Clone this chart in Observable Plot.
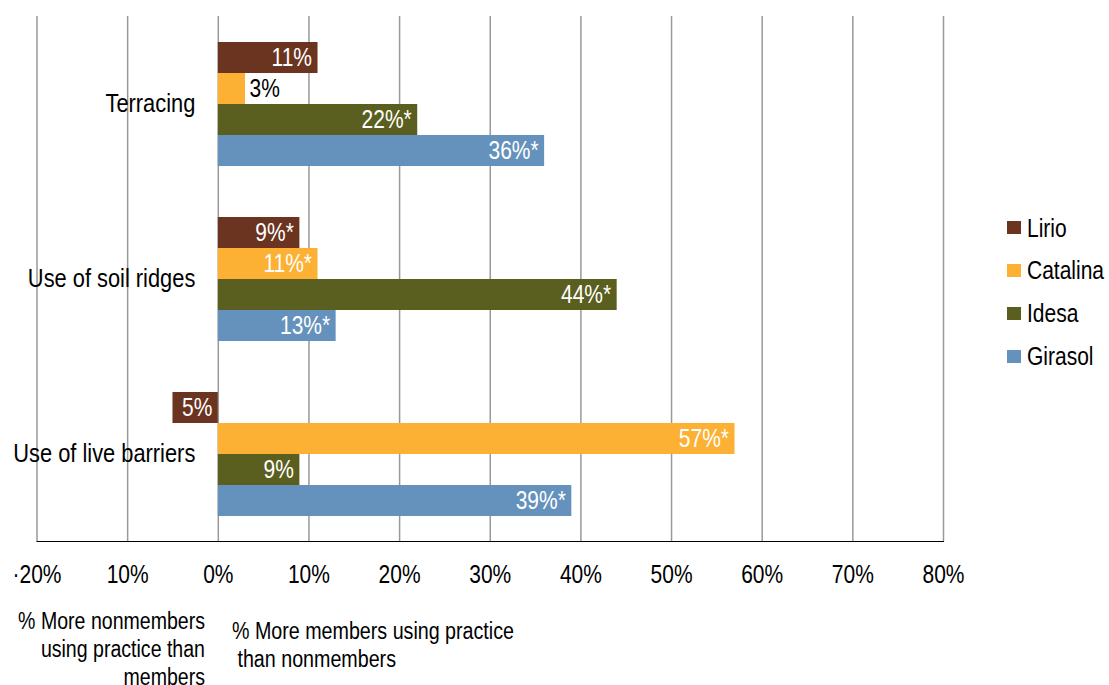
<!DOCTYPE html>
<html>
<head>
<meta charset="utf-8">
<script src="https://cdn.jsdelivr.net/npm/d3@7"></script>
<script src="https://cdn.jsdelivr.net/npm/@observablehq/plot@0.6"></script>
<style>
  html, body { margin: 0; padding: 0; background: #fff; }
  #wrap { position: relative; width: 1109px; height: 685px; overflow: hidden;
    font-family: 'Liberation Sans', Arial, sans-serif; color: #000; }
  #chart svg { display: block; }
  .legend { position: absolute; left: 1007px; top: 206.6px; }
  .legend .item { height: 42.7px; line-height: 42.7px; font-size: 25px; display: flex; align-items: center; white-space: nowrap; }
  .legend .sw { width: 14px; height: 13px; margin-right: 6px; flex: none; }
  .legend .lab { display: inline-block; transform: scaleX(0.84); transform-origin: left center; }
  .desc { position: absolute; font-size: 23px; line-height: 28px; white-space: nowrap; }
  #descLeft div { transform: scaleX(0.85); transform-origin: right center; }
  #descRight div { transform: scaleX(0.855); transform-origin: left center; }
</style>
</head>
<body>
<div id="wrap">
  <div id="chart"></div>
  <div class="legend" id="legend"></div>
  <div class="desc" id="descLeft" style="left:-100px; width:305px; top:607px; text-align:right;"></div>
  <div class="desc" id="descRight" style="left:232px; width:400px; top:617px; text-align:left;"></div>
</div>
<script>
// ---- data ----
const practices = ["Terracing", "Use of soil ridges", "Use of live barriers"];
const series = ["Lirio", "Catalina", "Idesa", "Girasol"];
const seriesColors = ["#6A3420", "#FCB034", "#5A5E1E", "#6592BD"];
const terracing = [11, 3, 22, 36];
const soilRidges = [9, 11, 44, 13];
const liveBarriers = [-5, 57, 9, 39];
const terracingLabels = ["11%", "3%", "22%*", "36%*"];
const soilRidgesLabels = ["9%*", "11%*", "44%*", "13%*"];
const liveBarriersLabels = ["5%", "57%*", "9%", "39%*"];
const xTicks = [-20, -10, 0, 10, 20, 30, 40, 50, 60, 70, 80];
const xTickLabels = ["·20%", "10%", "0%", "10%", "20%", "30%", "40%", "50%", "60%", "70%", "80%"];
const descLeftLines = ["% More nonmembers", "using practice than", "members"];
const descRightLines = ["% More members using practice", "\u00a0than nonmembers"];

// ---- table ----
const valuesByPractice = [terracing, soilRidges, liveBarriers];
const labelsByPractice = [terracingLabels, soilRidgesLabels, liveBarriersLabels];
const data = [];
practices.forEach((p, i) => series.forEach((s, j) => data.push({
  practice: p, series: s, value: valuesByPractice[i][j], label: labelsByPractice[i][j]
})));

const FONT = "'Liberation Sans', Arial, sans-serif";
const SQUEEZE = 0.84;
const inside = data.filter(d => d.value >= 5);
const negative = data.filter(d => d.value < 0);
const outside = data.filter(d => d.value >= 0 && d.value < 5);

const chart = Plot.plot({
  width: 1109,
  height: 600,
  marginLeft: 36.5,
  marginRight: 166,
  marginTop: 15,
  marginBottom: 59,
  style: { fontFamily: FONT, fontSize: "25px", color: "#000", background: "transparent", overflow: "visible" },
  x: { domain: [-20, 80], ticks: xTicks, tickFormat: d => xTickLabels[xTicks.indexOf(d)], tickSize: 0, tickPadding: 24, label: null, line: true },
  y: { domain: series, paddingInner: 0, paddingOuter: 0.76, axis: null },
  fy: { domain: practices, padding: 0, axis: null, label: null },
  color: { domain: series, range: seriesColors },
  marks: [
    Plot.ruleX(xTicks, { stroke: "#999", strokeWidth: 1.5 }),
    Plot.barX(data, { x: "value", y: "series", fy: "practice", fill: "series" }),
    Plot.text(inside, { x: "value", y: "series", fy: "practice", text: "label", textAnchor: "end", dx: -6, fill: "white", fontSize: 25 }),
    Plot.text(negative, { x: () => 0, y: "series", fy: "practice", text: "label", textAnchor: "end", dx: -6, fill: "white", fontSize: 25 }),
    Plot.text(outside, { x: "value", y: "series", fy: "practice", text: "label", textAnchor: "start", dx: 4, fill: "black", fontSize: 25 }),
    Plot.text(practices, { x: () => 0, fy: d => d, text: d => d, textAnchor: "end", dx: -23, fill: "black", fontSize: 26 })
  ]
});
// condense the text horizontally to imitate a narrow typeface
chart.querySelectorAll("text").forEach(t => {
  const tr = t.getAttribute("transform") || "";
  const x = t.getAttribute("x");
  if (x != null && /^-?[\d.]+$/.test(x.trim())) t.setAttribute("x", +x / SQUEEZE);
  t.setAttribute("transform", `${tr} scale(${SQUEEZE},1)`);
});
document.getElementById("chart").appendChild(chart);

// legend
const legend = document.getElementById("legend");
series.forEach((s, i) => {
  const item = document.createElement("div");
  item.className = "item";
  const sw = document.createElement("span");
  sw.className = "sw";
  sw.style.background = seriesColors[i];
  const t = document.createElement("span");
  t.className = "lab";
  t.textContent = s;
  item.appendChild(sw); item.appendChild(t);
  legend.appendChild(item);
});

// descriptions
descLeftLines.forEach(l => { const d = document.createElement("div"); d.textContent = l; document.getElementById("descLeft").appendChild(d); });
descRightLines.forEach(l => { const d = document.createElement("div"); d.textContent = l; document.getElementById("descRight").appendChild(d); });
</script>
</body>
</html>
